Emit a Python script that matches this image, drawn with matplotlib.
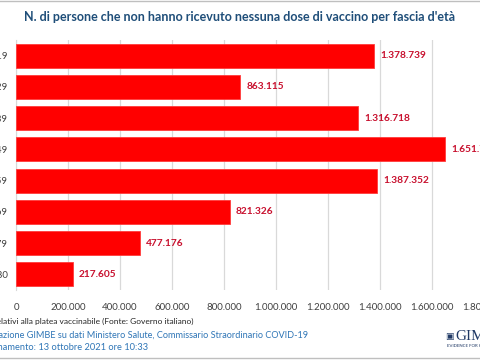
import matplotlib.pyplot as plt
from matplotlib.ticker import FuncFormatter

# Age groups and people without any vaccine dose
age_groups = ["12-19", "20-29", "30-39", "40-49", "50-59", "60-69", "70-79", "≥80"]
non_vaccinated = [1378739, 863115, 1316718, 1651723, 1387352, 821326, 477176, 217605]
x_ticks = [0, 200000, 400000, 600000, 800000, 1000000, 1200000, 1400000, 1600000, 1800000]

title = "N. di persone che non hanno ricevuto nessuna dose di vaccino per fascia d'età"
note = "Dati relativi alla platea vaccinabile (Fonte: Governo italiano)"
source = "Elaborazione GIMBE su dati Ministero Salute, Commissario Straordinario COVID-19"
updated = "Aggiornamento: 13 ottobre 2021 ore 10:33"

plt.rcParams["font.family"] = ["Lato", "DejaVu Sans"]


def it_format(v, _pos=None):
    return f"{int(v):,}".replace(",", ".")


W, H = 480, 360
fig = plt.figure(figsize=(W / 100, H / 100), dpi=100)
ax = fig.add_axes([16 / W, 1 - 290 / H, (484 - 16) / W, 250 / H])

y = range(len(age_groups))
ax.barh(y, non_vaccinated, height=0.77, color="#FF0000", edgecolor="#FF3B3B", linewidth=0.6, zorder=3)
ax.set_ylim(len(age_groups) - 0.5, -0.5)
ax.set_xlim(0, 1800000)
ax.set_xticks(x_ticks)
ax.xaxis.set_major_formatter(FuncFormatter(it_format))
ax.set_yticks(list(y))
ax.set_yticklabels(age_groups)
ax.tick_params(axis="both", length=0, labelsize=7, labelcolor="#404040")
ax.tick_params(axis="x", pad=9)
ax.tick_params(axis="y", pad=6)
ax.grid(axis="x", color="#D9D9D9", linewidth=0.9, zorder=0)
for s in ["top", "right", "bottom"]:
    ax.spines[s].set_visible(False)
ax.spines["left"].set_color("#D9D9D9")

for i, v in enumerate(non_vaccinated):
    ax.annotate(it_format(v), (v, i), xytext=(4.5, 0), textcoords="offset points",
                va="center", ha="left", fontsize=7.3, fontweight="bold", color="#C8102E")

fig.text(240 / W, 1 - 17 / H, title, ha="center", va="center", fontsize=9.0,
         fontweight="bold", color="#1F4E79")
fig.text(193 / W, 1 - 321 / H, note, ha="right", va="center", fontsize=6.0, color="#262626")
fig.text(308 / W, 1 - 335 / H, source, ha="right", va="center", fontsize=6.6, color="#2E75B6")
fig.text(148 / W, 1 - 348 / H, updated, ha="right", va="center", fontsize=6.7, color="#2E75B6")

# GIMBE logo
fig.text(455 / W, 1 - 336 / H, "GIMBE", ha="left", va="center", fontsize=11,
         family="Liberation Serif", color="#1F3864")
fig.text(445 / W, 1 - 336 / H, "▣", ha="left", va="center", fontsize=6.5, color="#1F3864")
fig.text(447 / W, 1 - 346 / H, "EVIDENCE FOR HEALTH", ha="left", va="center", fontsize=3.2,
         color="#1F3864")

# frame lines
fig.add_artist(plt.Line2D([0, 1], [1 - 1 / H, 1 - 1 / H], color="#BFBFBF", linewidth=1))
fig.add_artist(plt.Line2D([0, 1], [1 - 358 / H, 1 - 358 / H], color="#BFBFBF", linewidth=1))

fig.savefig("out.png", dpi=100, facecolor="white")
